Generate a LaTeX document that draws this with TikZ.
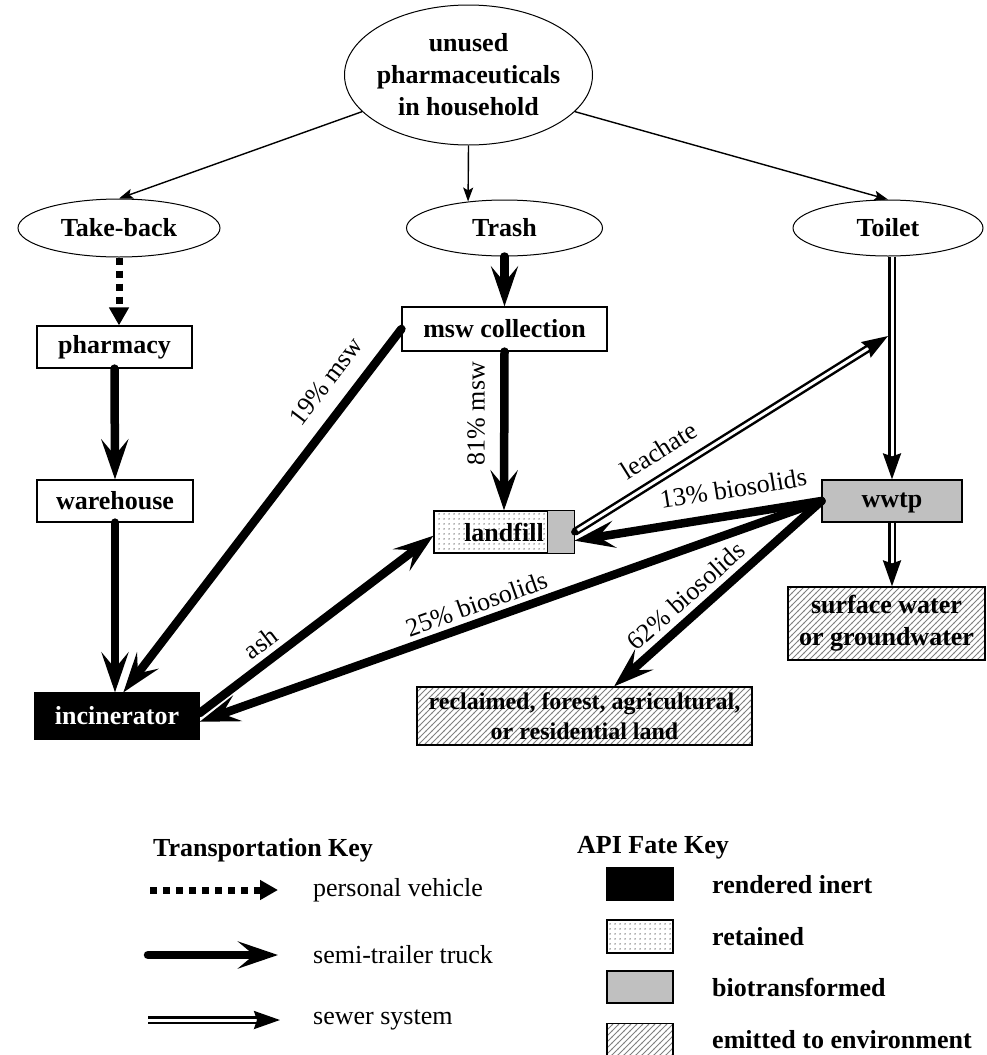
\documentclass[tikz,border=0pt]{standalone}
\usepackage{fontspec}
\setmainfont{Liberation Serif}
\usetikzlibrary{arrows.meta,shapes.geometric,patterns.meta,calc}
\definecolor{mygray}{RGB}{192,192,192}
\tikzdeclarepattern{
  name=hatch, type=uncolored,
  bounding box={(-0.5pt,-0.5pt) and (6.5pt,6.5pt)},
  tile size={(6pt,6pt)},
  code={\draw[line width=0.8pt] (-0.5pt,-0.5pt) -- (6.5pt,6.5pt);}
}
\tikzdeclarepattern{
  name=fdots, type=uncolored,
  bounding box={(0pt,0pt) and (4.5pt,4.5pt)},
  tile size={(4.5pt,4.5pt)},
  code={\fill (2.25pt,2.25pt) circle (0.75pt);}
}
\tikzset{
  lbl/.style={font=\fontsize{26}{30}\selectfont, inner sep=2pt},
  nodetext/.style={font=\bfseries\fontsize{26}{32}\selectfont},
  oval/.style={ellipse, draw, line width=1pt, inner sep=0pt, nodetext, align=center},
  box/.style={rectangle, draw, line width=1.2pt, inner sep=0pt, nodetext, align=center},
  thinarrow/.style={line width=1.4pt, -{Stealth[length=14pt,width=10pt,inset=3pt]}},
  truck/.style={line width=8.5pt, line cap=round, -{Stealth[length=40pt,width=27pt,inset=16pt]}},
  car/.style={line width=7pt, dash pattern=on 7pt off 6pt, -{Triangle[length=18pt,width=19pt]}},
  sewer/.style={line width=2.5pt, double, double distance=3pt, -{Stealth[length=26pt,width=18pt,inset=3pt]}},
}
\begin{document}
\begin{tikzpicture}[x=1pt,y=1pt]
\useasboundingbox (0,0) rectangle (986,-1055);
% ellipses
\node[oval, minimum width=248pt, minimum height=140pt] (top) at (468.5,-75) {};
\node[nodetext, align=center] (topt) at (top.center) {unused\\pharmaceuticals\\in household};
\node[oval, minimum width=202pt, minimum height=58pt] (tb) at (119,-228) {Take-back};
\node[oval, minimum width=196pt, minimum height=56pt] (trash) at (504.5,-228) {Trash};
\node[oval, minimum width=190pt, minimum height=56pt] (toilet) at (888,-228) {Toilet};
% boxes
\node[box, minimum width=155pt, minimum height=42pt] (pharm) at (114.5,-347) {pharmacy};
\node[box, minimum width=156pt, minimum height=42pt] (ware) at (115,-501) {warehouse};
\node[box, fill=black, text=white, minimum width=164pt, minimum height=46pt] (inc) at (117,-716) {incinerator};
\node[box, minimum width=205pt, minimum height=44pt] (msw) at (504.5,-329) {msw collection};
\node[box, pattern=fdots, pattern color=black!75, minimum width=140pt, minimum height=42pt] (landfill) at (504,-532) {landfill};
\fill[mygray] ($(landfill.north east)+(-27,0)$) rectangle (landfill.south east);
\draw[line width=1.2pt] (landfill.north west) rectangle (landfill.south east);
\draw[line width=1.2pt] ($(landfill.north east)+(-27,0)$) -- ($(landfill.south east)+(-27,0)$);
\node[box, fill=mygray, minimum width=140pt, minimum height=42pt] (wwtp) at (892,-501) {\strut wwtp};
\node[box, pattern=hatch, pattern color=gray, minimum width=197pt, minimum height=73pt] (sw) at (886.5,-623.5) {surface water\\or groundwater};
\node[box, pattern=hatch, pattern color=gray, minimum width=335pt, minimum height=58pt, font=\bfseries\fontsize{24}{30}\selectfont] (land) at (584.5,-716) {reclaimed, forest, agricultural,\\or residential land};
% thin arrows
\draw[thinarrow] (top.199) -- (tb.north);
\draw[thinarrow] (top.south) -- (trash.144);
\draw[thinarrow] (top.-19) -- (toilet.north);
% take-back chain
\draw[car] (tb.south) -- (tb.south |- pharm.north);
\draw[truck] (pharm.south) -- (ware.north);
\draw[truck] (ware.south) -- (ware.south |- inc.north);
% trash chain
\draw[truck] (trash.south) -- (msw.north);
\draw[truck] (msw.south) -- node[lbl, pos=0.39, rotate=90, anchor=south, yshift=13pt] {81\% msw} (landfill.north);
\draw[truck] (msw.west) -- node[lbl, sloped, above=13pt, pos=0.19] {19\% msw} (inc.75);
% toilet chain
\draw[sewer] (wwtp.north |- toilet.south) -- (wwtp.north);
\draw[sewer] (wwtp.south) -- (wwtp.south |- sw.north);
\coordinate (lj) at (888,-336);
\draw[sewer] (landfill.east) -- node[lbl, sloped, above=12pt, pos=0.31] {leachate} (lj);
\fill (landfill.east) circle (3.5pt);
% biosolids
\draw[truck] (wwtp.west) -- node[lbl, sloped, above=11pt, pos=0.34] {13\% biosolids} (landfill.-7);
\draw[truck] (wwtp.west) -- node[lbl, sloped, above=3pt, pos=0.545] {25\% biosolids} (inc.-4);
\draw[truck] (wwtp.west) -- node[lbl, sloped, above=4pt, pos=0.59] {62\% biosolids} (land.45);
\draw[truck] (inc.2) -- node[lbl, sloped, above=4pt, pos=0.31] {ash} (landfill.183);
% transportation key
\node[nodetext, anchor=west, inner sep=0pt] (tk) at (153,-850) {Transportation Key};
\coordinate (k1a) at (150,-890); \coordinate (k1b) at (278,-890);
\coordinate (k2a) at (148,-955); \coordinate (k2b) at (278,-955);
\coordinate (k3a) at (148,-1020); \coordinate (k3b) at (280,-1020);
\draw[car] (k1a) -- (k1b);
\draw[truck] (k2a) -- (k2b);
\draw[sewer] (k3a) -- (k3b);
\node[lbl, anchor=west, inner sep=0pt] (kt1) at (313,-890) {personal vehicle};
\node[lbl, anchor=west, inner sep=0pt] (kt2) at (313,-955) {semi-trailer truck};
\node[lbl, anchor=west, inner sep=0pt] (kt3) at (313,-1020) {sewer system};
% API fate key
\node[nodetext, anchor=west, inner sep=0pt] (fk) at (577,-848) {API Fate Key};
\node[box, fill=black, minimum width=66pt, minimum height=32pt] (fb1) at (640,-884) {};
\node[box, pattern=fdots, pattern color=black!75, minimum width=66pt, minimum height=33pt] (fb2) at (640,-936.5) {};
\node[box, fill=mygray, minimum width=66pt, minimum height=32pt] (fb3) at (640,-987) {};
\node[box, pattern=hatch, pattern color=gray, minimum width=66pt, minimum height=32pt] (fb4) at (640,-1039.5) {};
\node[nodetext, anchor=west, inner sep=0pt] (ft1) at (712,-885) {rendered inert};
\node[nodetext, anchor=west, inner sep=0pt] (ft2) at (712,-937) {retained};
\node[nodetext, anchor=west, inner sep=0pt] (ft3) at (712,-987) {biotransformed};
\node[nodetext, anchor=west, inner sep=0pt] (ft4) at (712,-1040) {emitted to environment};
\end{tikzpicture}
\end{document}
